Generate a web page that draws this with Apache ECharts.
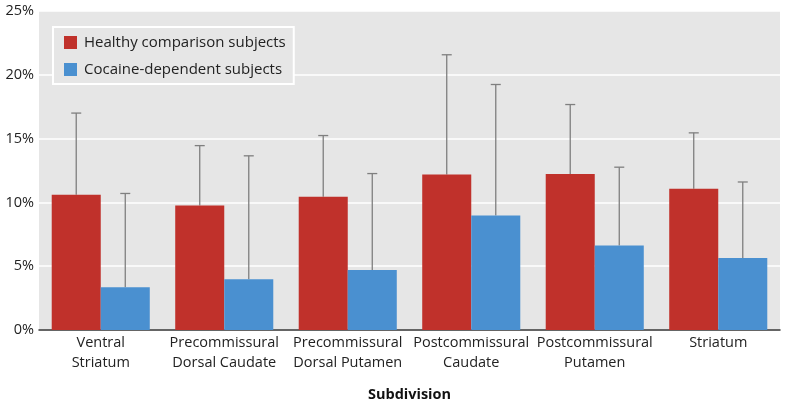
<!DOCTYPE html>
<html><head><meta charset="utf-8">
<script src="https://cdn.jsdelivr.net/npm/echarts@6/dist/echarts.min.js"></script>
<style>html,body{margin:0;padding:0;background:#fff}#c{width:785px;height:402px}</style>
</head><body><div id="c"></div>
<script>
const categories = ["Ventral\nStriatum","Precommissural\nDorsal Caudate","Precommissural\nDorsal Putamen","Postcommissural\nCaudate","Postcommissural\nPutamen","Striatum"];
const healthy = [10.6, 9.75, 10.45, 12.18, 12.23, 11.06];
const healthyUpper = [17.0, 14.45, 15.24, 21.57, 17.67, 15.45];
const cocaine = [3.35, 3.97, 4.7, 8.97, 6.62, 5.65];
const cocaineUpper = [10.7, 13.65, 12.26, 19.24, 12.76, 11.6];
const yTicks = [0, 5, 10, 15, 20, 25];
const seriesNames = ["Healthy comparison subjects", "Cocaine-dependent subjects"];

const FONT = "'Open Sans', 'Noto Sans', sans-serif";
const GAP = 0.206;
const chart = echarts.init(document.getElementById('c'));

function errSeries(vals, uppers, side) {
  return {
    type: 'custom',
    silent: true,
    z: 1,
    data: vals.map((v, i) => [i, v, uppers[i]]),
    renderItem: function (params, api) {
      const i = api.value(0);
      const catW = api.size([1, 0])[0];
      const bw = catW * (1 - GAP) / 2;
      const base = api.coord([i, api.value(1)]);
      const top = api.coord([i, api.value(2)]);
      const x = base[0] + side * bw / 2;
      const style = { stroke: '#7f7f7f', lineWidth: 1.3 };
      return { type: 'group', children: [
        { type: 'line', shape: { x1: x, y1: base[1], x2: x, y2: top[1] }, style: style },
        { type: 'line', shape: { x1: x - 5, y1: top[1], x2: x + 5, y2: top[1] }, style: style }
      ]};
    }
  };
}

chart.setOption({
  animation: false,
  textStyle: { fontFamily: FONT },
  grid: { left: 39, right: 5, top: 11, bottom: 72, show: true, backgroundColor: '#e6e6e6', borderWidth: 0, containLabel: false, outerBoundsMode: 'none' },
  legend: {
    data: seriesNames,
    orient: 'vertical', left: 53, top: 27,
    backgroundColor: '#e6e6e6', borderColor: '#ffffff', borderWidth: 2,
    padding: [8, 8, 7, 11], itemGap: 12,
    itemWidth: 13, itemHeight: 13, icon: 'rect',
    textStyle: { fontSize: 15, lineHeight: 15, color: '#222', fontFamily: FONT, padding: [0, 0, 0, 2] }
  },
  xAxis: {
    type: 'category', data: categories,
    name: 'Subdivision', nameLocation: 'middle', nameGap: 57,
    nameTextStyle: { fontSize: 14.5, fontWeight: 'bold', color: '#111', fontFamily: FONT },
    axisLine: { lineStyle: { color: '#333', width: 1.5 } },
    axisTick: { show: false },
    axisLabel: { fontSize: 14.5, color: '#222', lineHeight: 20, margin: 3, interval: 0, fontFamily: FONT },
    splitLine: { show: false }
  },
  yAxis: {
    type: 'value', min: yTicks[0], max: yTicks[yTicks.length - 1], interval: 5,
    axisLine: { show: false }, axisTick: { show: false },
    axisLabel: { formatter: '{value}%', fontSize: 14.5, color: '#222', margin: 5, fontFamily: FONT },
    splitLine: { lineStyle: { color: '#ffffff', width: 1.5 } }
  },
  series: [
    { name: seriesNames[0], type: 'bar', data: healthy, itemStyle: { color: '#c0312b' }, barGap: '0%', barCategoryGap: (GAP * 100) + '%', z: 2 },
    { name: seriesNames[1], type: 'bar', data: cocaine, itemStyle: { color: '#4a90d0' }, barGap: '0%', barCategoryGap: (GAP * 100) + '%', z: 2 },
    errSeries(healthy, healthyUpper, -1),
    errSeries(cocaine, cocaineUpper, 1)
  ]
});
</script></body></html>
